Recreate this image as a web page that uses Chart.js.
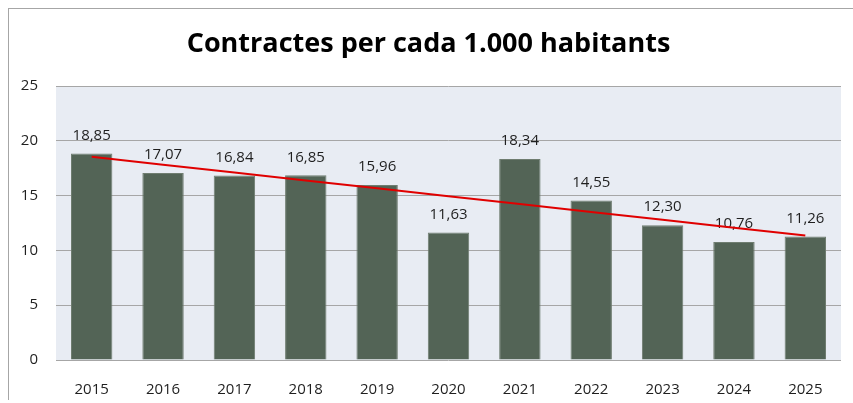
<!DOCTYPE html>
<html>
<head>
<meta charset="utf-8">
<script src="https://cdn.jsdelivr.net/npm/chart.js@4/dist/chart.umd.min.js"></script>
<style>
  html, body { margin: 0; padding: 0; background: #fff; }
  #wrap { position: relative; width: 853px; height: 403px; overflow: hidden; }
  #frame {
    position: absolute; left: 8px; top: 8px; width: 860px; height: 392px;
    border-left: 1px solid #a6a6a6; border-top: 1px solid #a6a6a6;
    box-sizing: border-box;
  }
  #chart { position: absolute; left: 0; top: 0; }
</style>
</head>
<body>
<div id="wrap">
  <div id="frame"></div>
  <canvas id="chart" width="853" height="403"></canvas>
</div>
<script>
// Contractes per cada 1.000 habitants, 2015-2025
const years = ['2015', '2016', '2017', '2018', '2019', '2020', '2021', '2022', '2023', '2024', '2025'];
const contractes = [18.85, 17.07, 16.84, 16.85, 15.96, 11.63, 18.34, 14.55, 12.30, 10.76, 11.26];
const yTicks = [0, 5, 10, 15, 20, 25];

// Linear trend (least squares) over the yearly values
function linearTrend(values) {
    const n = values.length;
    const meanX = (n - 1) / 2;
    const meanY = values.reduce((a, b) => a + b, 0) / n;
    let sxy = 0, sxx = 0;
    values.forEach((v, i) => {
        sxy += (i - meanX) * (v - meanY);
        sxx += (i - meanX) * (i - meanX);
    });
    const slope = sxy / sxx;
    return values.map((v, i) => meanY + slope * (i - meanX));
}
const trend = linearTrend(contractes);

const fmt = v => v.toFixed(2).replace('.', ',');

// Light plot background behind the bars
const plotBackground = {
    id: 'plotBackground',
    beforeDraw(chart) {
        const { ctx, chartArea } = chart;
        ctx.save();
        ctx.fillStyle = '#e8ecf3';
        ctx.fillRect(chartArea.left, chartArea.top, chartArea.right - chartArea.left, chartArea.bottom - chartArea.top);
        ctx.restore();
    }
};

// Value labels above each bar (drawn before the trend line)
const barLabels = {
    id: 'barLabels',
    afterDatasetDraw(chart, args) {
        if (args.index !== 0) return;
        const { ctx } = chart;
        ctx.save();
        ctx.font = '15px "Open Sans"';
        ctx.fillStyle = '#1f1f1f';
        ctx.textAlign = 'center';
        ctx.textBaseline = 'middle';
        args.meta.data.forEach((bar, i) => {
            ctx.fillText(fmt(contractes[i]), bar.x, bar.y - 18);
        });
        ctx.restore();
    }
};

const ctx = document.getElementById('chart').getContext('2d');
new Chart(ctx, {
    data: {
        labels: years,
        datasets: [{
            type: 'bar',
            data: contractes,
            backgroundColor: '#536456',
            borderColor: '#6f7d70',
            borderWidth: 1,
            barPercentage: 0.58,
            categoryPercentage: 1,
            order: 1
        }, {
            type: 'line',
            data: trend,
            borderColor: '#e00000',
            borderWidth: 2,
            pointRadius: 0,
            tension: 0,
            order: 0
        }]
    },
    options: {
        responsive: false,
        animation: false,
        layout: { padding: { left: 16, right: 12, top: 0, bottom: 0 } },
        plugins: {
            legend: { display: false },
            tooltip: { enabled: false },
            title: {
                display: true,
                text: 'Contractes per cada 1.000 habitants',
                color: '#000',
                font: { family: 'Open Sans', size: 27, weight: 'bold' },
                padding: { top: 28, bottom: 25.6 }
            }
        },
        scales: {
            x: {
                grid: { display: false },
                border: { display: false },
                ticks: {
                    color: '#1f1f1f',
                    font: { family: 'Open Sans', size: 15 },
                    padding: 13,
                    maxRotation: 0
                },
                afterFit(scale) { scale.height = 43; }
            },
            y: {
                min: 0,
                max: 25,
                afterBuildTicks(scale) { scale.ticks = yTicks.map(v => ({ value: v })); },
                grid: { color: '#a6a6a6', lineWidth: 1, drawTicks: false },
                border: { display: false },
                ticks: {
                    color: '#1f1f1f',
                    font: { family: 'Open Sans', size: 15 },
                    padding: 18
                },
                afterFit(scale) { scale.width = 40; }
            }
        }
    },
    plugins: [plotBackground, barLabels]
});
</script>
</body>
</html>
